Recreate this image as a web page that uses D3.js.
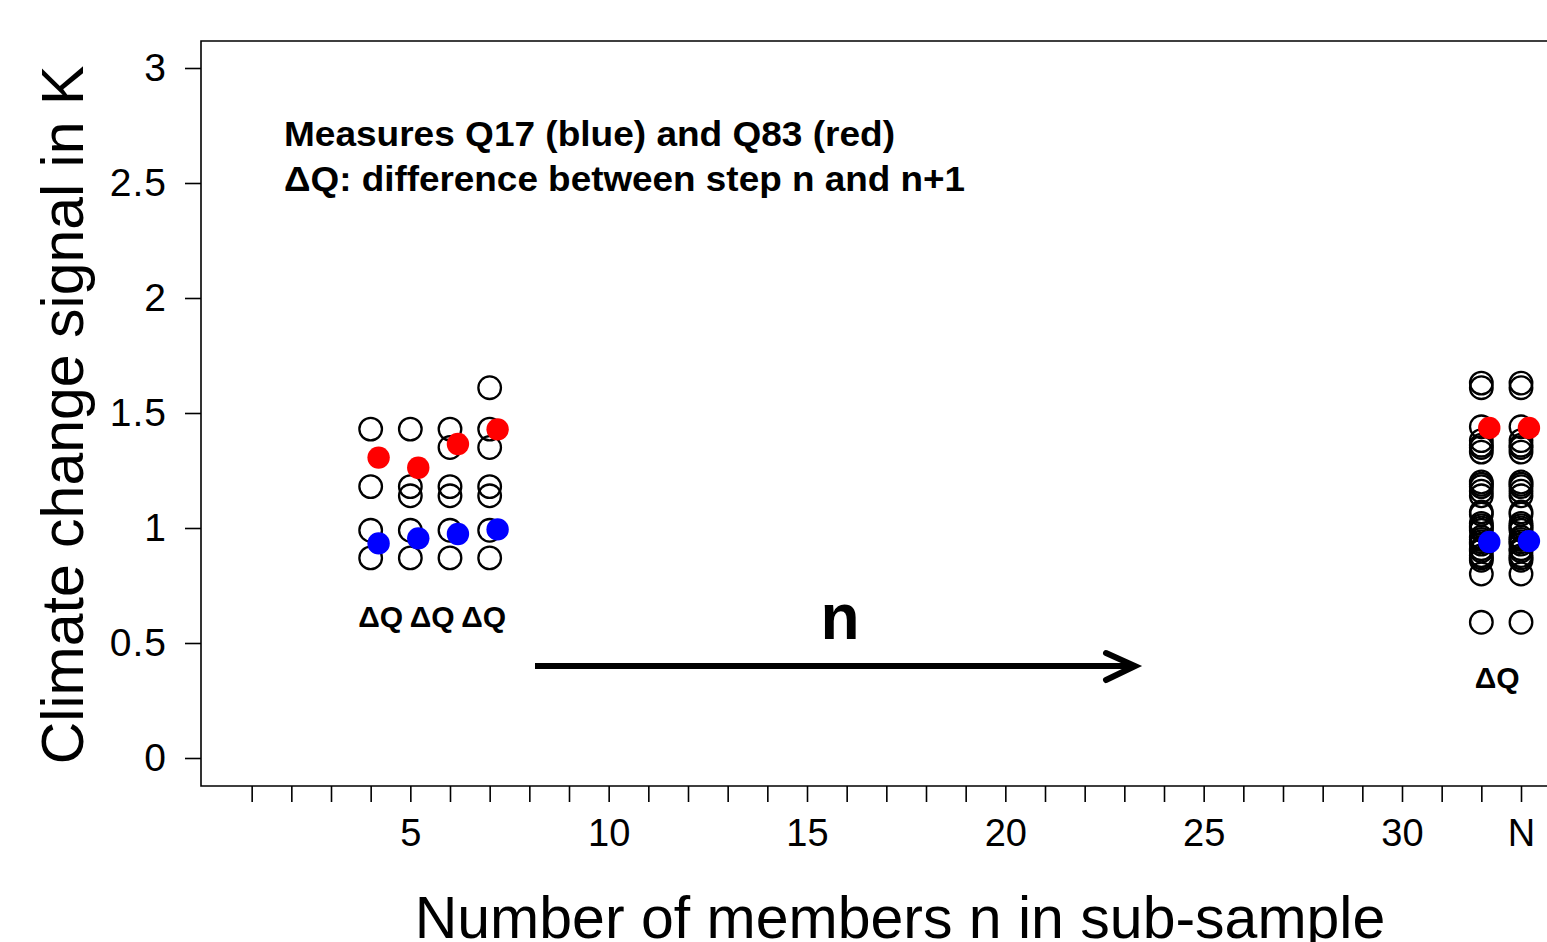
<!DOCTYPE html>
<html>
<head>
<meta charset="utf-8">
<script src="https://cdn.jsdelivr.net/npm/d3@7"></script>
<style>
  html, body { margin: 0; padding: 0; background: #fff; }
  svg { display: block; font-family: "Liberation Sans", Arial, sans-serif; }
</style>
</head>
<body>
<svg id="chart" width="1547" height="942"></svg>
<script>
// Sub-sample sizes drawn on the left and the full ensemble on the right
const sampleSizes = [4, 5, 6, 7];
const sampleMembers = [
  [1.43, 1.18, 0.99, 0.87],
  [1.43, 1.18, 1.14, 0.99, 0.87],
  [1.43, 1.35, 1.18, 1.14, 0.99, 0.87],
  [1.61, 1.43, 1.35, 1.18, 1.14, 0.99, 0.87]
];
const sampleQ83 = [1.306, 1.262, 1.365, 1.429];
const sampleQ17 = [0.933, 0.955, 0.974, 0.994];

// Full ensemble (N = 33 members) and the step before it
const ensembleSizes = [32, 33];
const ensembleMembers = [
  1.63, 1.61, 1.44, 1.38, 1.36, 1.35, 1.33, 1.20, 1.19, 1.18,
  1.16, 1.14, 1.07, 1.06, 1.02, 1.01, 1.00, 0.99, 0.96, 0.95,
  0.94, 0.93, 0.91, 0.90, 0.88, 0.87, 0.86, 0.80, 0.59
];
const ensembleQ83 = [1.435, 1.435];
const ensembleQ17 = [0.939, 0.943];

// Axis ticks
const xTickValues = d3.range(1, 34);
const xTickLabels = {5: "5", 10: "10", 15: "15", 20: "20", 25: "25", 30: "30", 33: "N"};
const yTickValues = [0, 0.5, 1, 1.5, 2, 2.5, 3];

// ΔQ label positions along the n axis
const dqSampleAt = [4.25, 5.55, 6.85];
const dqEnsembleAt = [32.4];

const svg = d3.select("#chart");

const plot = {left: 201, top: 41, bottom: 786, right: 1560};
const x = d3.scaleLinear().domain([0, 33]).range([212, 1521]);
const y = d3.scaleLinear().domain([0, 3]).range([758, 68]);
const dotShift = 0.2;   // filled quantile markers sit just right of their column

// Plot frame (right edge runs off the canvas)
svg.append("path")
  .attr("d", `M${plot.right},${plot.top}H${plot.left}V${plot.bottom}H${plot.right}`)
  .attr("fill", "none").attr("stroke", "#000").attr("stroke-width", 1.6);

// X axis
const xAxis = d3.axisBottom(x)
  .tickValues(xTickValues)
  .tickSize(16)
  .tickPadding(17)
  .tickFormat(d => xTickLabels[d] || "");
const gx = svg.append("g").attr("transform", `translate(0,${plot.bottom})`).call(xAxis);
gx.select(".domain").remove();
gx.selectAll(".tick line").attr("stroke", "#000").attr("stroke-width", 1.6);
gx.selectAll(".tick text").attr("font-size", 38).attr("fill", "#000")
  .attr("font-family", "Liberation Sans, Arial, sans-serif");

// Y axis
const yAxis = d3.axisLeft(y)
  .tickValues(yTickValues)
  .tickSize(16)
  .tickPadding(18)
  .tickFormat(d => String(d));
const gy = svg.append("g").attr("transform", `translate(${plot.left},0)`).call(yAxis);
gy.select(".domain").remove();
gy.selectAll(".tick line").attr("stroke", "#000").attr("stroke-width", 1.6);
gy.selectAll(".tick text").attr("font-size", 39).attr("fill", "#000")
  .attr("letter-spacing", 1)
  .attr("font-family", "Liberation Sans, Arial, sans-serif");

// Axis titles
svg.append("text")
  .attr("transform", "translate(83,415) rotate(-90)")
  .attr("text-anchor", "middle")
  .attr("font-size", 59)
  .text("Climate change signal in K");

svg.append("text")
  .attr("x", 900).attr("y", 938)
  .attr("text-anchor", "middle")
  .attr("font-size", 59)
  .text("Number of members n in sub-sample");

// Member values as open circles
const columns = sampleSizes.map((n, i) => ({n, values: sampleMembers[i]}))
  .concat(ensembleSizes.map(n => ({n, values: ensembleMembers})));
const points = columns.flatMap(c => c.values.map(v => ({n: c.n, v})));

svg.append("g").selectAll("circle").data(points).join("circle")
  .attr("cx", d => x(d.n))
  .attr("cy", d => y(d.v))
  .attr("r", 11.3)
  .attr("fill", "none")
  .attr("stroke", "#000")
  .attr("stroke-width", 2.3);

// Quantile markers
const allSizes = sampleSizes.concat(ensembleSizes);
const q83 = sampleQ83.concat(ensembleQ83);
const q17 = sampleQ17.concat(ensembleQ17);

svg.append("g").selectAll("circle").data(allSizes.map((n, i) => ({n, v: q83[i]}))).join("circle")
  .attr("cx", d => x(d.n + dotShift))
  .attr("cy", d => y(d.v))
  .attr("r", 11.2)
  .attr("fill", "#ff0000");

svg.append("g").selectAll("circle").data(allSizes.map((n, i) => ({n, v: q17[i]}))).join("circle")
  .attr("cx", d => x(d.n + dotShift))
  .attr("cy", d => y(d.v))
  .attr("r", 11.2)
  .attr("fill", "#0000ff");

// Annotation text
const note = svg.append("g").attr("font-weight", "bold").attr("font-size", 35);
note.append("text").attr("x", 284).attr("y", 146)
  .attr("textLength", 611).attr("lengthAdjust", "spacingAndGlyphs")
  .text("Measures Q17 (blue) and Q83 (red)");
note.append("text").attr("x", 284).attr("y", 191)
  .attr("textLength", 681).attr("lengthAdjust", "spacingAndGlyphs")
  .text("ΔQ: difference between step n and n+1");

// ΔQ labels between successive steps
svg.append("g").selectAll("text").data(dqSampleAt).join("text")
  .attr("x", d => x(d))
  .attr("y", 627)
  .attr("text-anchor", "middle")
  .attr("font-weight", "bold")
  .attr("font-size", 30)
  .text("ΔQ");
svg.append("g").selectAll("text").data(dqEnsembleAt).join("text")
  .attr("x", d => x(d))
  .attr("y", 688)
  .attr("text-anchor", "middle")
  .attr("font-weight", "bold")
  .attr("font-size", 30)
  .text("ΔQ");

// Direction of growing sub-sample size
svg.append("text")
  .attr("x", 840).attr("y", 639)
  .attr("text-anchor", "middle")
  .attr("font-weight", "bold")
  .attr("font-size", 64)
  .text("n");

const arrow = svg.append("g")
  .attr("stroke", "#000").attr("stroke-width", 6).attr("fill", "none");
arrow.append("line").attr("x1", 535).attr("y1", 666).attr("x2", 1133).attr("y2", 666)
  .attr("stroke-linecap", "butt");
arrow.append("path").attr("d", "M1106,653L1135,666L1106,680")
  .attr("stroke-linecap", "round").attr("stroke-linejoin", "miter");
</script>
</body>
</html>
